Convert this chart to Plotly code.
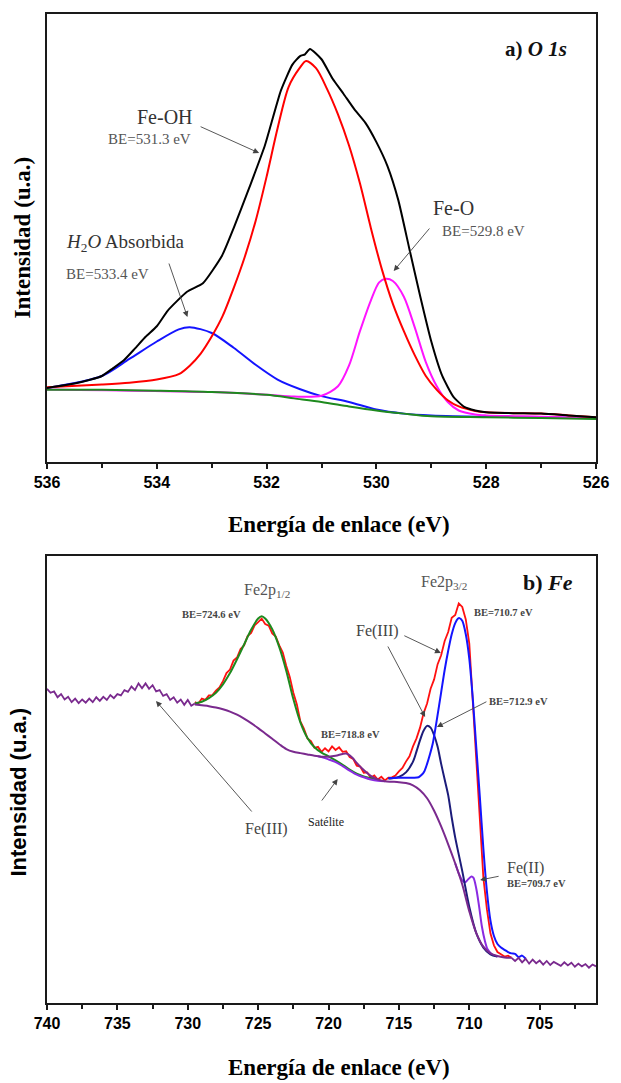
import numpy as np
import plotly.graph_objects as go

# ================= Panel a) O 1s =================
o_tot_E = [536.0, 535.5, 535.2, 535.0, 534.8, 534.6, 534.4, 534.2, 534.0, 533.8, 533.45, 533.16, 532.81, 532.6, 532.31,
           532.03, 531.74, 531.53, 531.39, 531.3, 531.21, 531.0, 530.8, 530.6, 530.4, 530.2, 530.0, 529.8, 529.6, 529.4,
           529.2, 529.0, 528.8, 528.6, 528.4, 528.2, 528.0, 527.5, 527.0, 526.5, 526.0]
o_tot_I = [16.5, 17.5, 18.4, 19.2, 20.9, 22.7, 25.3, 28.0, 30.3, 33.8, 38.0, 39.9, 46.1, 52.2, 61.4,
           70.7, 82.9, 88.7, 90.6, 91.0, 92.2, 89.9, 85.6, 82.2, 78.7, 75.7, 71.4, 66.1, 58.4, 47.6,
           36.9, 26.9, 19.2, 14.6, 12.3, 11.5, 11.1, 10.9, 10.8, 10.4, 10.0]

o_feoh_E = [536.0, 535.0, 534.5, 534.0, 533.6, 533.4, 533.2, 533.0, 532.8, 532.6, 532.4, 532.2, 532.0, 531.8, 531.6,
            531.4, 531.28, 531.1, 530.9, 530.7, 530.5, 530.3, 530.1, 529.9, 529.7, 529.5, 529.3, 529.1, 528.9, 528.7,
            528.5, 528.2, 528.0, 527.5, 527.0, 526.5, 526.0]
o_feoh_I = [16.7, 17.3, 17.7, 18.4, 19.6, 21.5, 24.2, 28.0, 32.6, 38.8, 45.7, 53.8, 63.7, 74.5, 83.7,
            87.9, 89.5, 87.9, 83.3, 77.6, 70.7, 62.2, 52.2, 43.0, 35.3, 29.2, 23.8, 19.2, 16.1, 13.8,
            12.4, 11.4, 11.1, 10.9, 10.8, 10.4, 10.0]

o_h2o_E = [536.0, 535.0, 534.5, 534.0, 533.6, 533.4, 533.0, 532.6, 532.2, 531.8, 531.4, 531.0, 530.5, 530.0, 529.5,
           529.0, 528.0, 527.0, 526.0]
o_h2o_I = [16.5, 19.2, 23.0, 26.9, 29.6, 30.1, 28.8, 25.5, 21.7, 18.4, 16.3, 14.7, 13.4, 11.7, 10.8,
           10.4, 10.1, 10.0, 9.75]

o_feo_E = [536.0, 533.0, 532.0, 531.5, 531.0, 530.7, 530.5, 530.3, 530.1, 529.95, 529.83, 529.7, 529.5, 529.3, 529.1,
           528.9, 528.7, 528.5, 528.2, 528.0, 527.0, 526.0]
o_feo_I = [16.2, 15.6, 15.0, 14.6, 14.8, 16.9, 21.5, 29.2, 36.1, 40.1, 40.9, 40.4, 36.9, 30.0, 22.3,
           16.9, 13.4, 11.5, 10.6, 10.4, 10.1, 9.8]

o_bg_E = [536.0, 535.0, 534.0, 533.0, 532.0, 531.5, 531.0, 530.5, 530.0, 529.5, 529.0, 528.0, 527.0, 526.0]
o_bg_I = [16.1, 16.1, 15.9, 15.6, 15.0, 14.2, 13.4, 12.4, 11.5, 10.8, 10.2, 10.0, 9.8, 9.6]

# ================= Panel b) Fe 2p =================
# noisy raw data, left end (740 -> 729.5 eV, 0.25 eV step)
fe_left_I = [70.3, 69.4, 69.7, 68.4, 69.1, 67.9, 68.5, 67.3, 68.1, 67.1, 67.9, 67.2, 68.1, 67.3, 68.4,
             67.6, 68.5, 67.8, 68.9, 68.2, 69.1, 68.8, 70.0, 69.6, 70.8, 70.0, 71.5, 70.4, 71.5, 70.3,
             71.1, 69.7, 70.0, 68.7, 69.1, 67.8, 68.4, 67.2, 67.9, 66.7, 67.8, 66.5, 67.0]
fe_left_E = np.linspace(740.0, 729.5, len(fe_left_I))

# noisy raw data, right end (707 -> 701 eV)
fe_right_I = [10.1, 9.4, 10.1, 9.1, 9.9, 8.8, 9.7, 8.9, 9.5, 8.6, 9.4, 8.5, 9.2, 8.7, 8.3,
              9.1, 8.4, 9.0, 8.1, 8.8, 8.2, 8.7, 7.9, 8.6, 8.2]
fe_right_E = np.linspace(707.0, 701.0, len(fe_right_I))

# raw data (red), 729.5 -> 707 eV
fe_raw_I = [67.3, 67.0, 68.1, 67.8, 68.8, 68.9, 69.9, 70.6, 72.0, 73.8, 74.6, 76.6, 77.3, 79.2, 80.0,
            82.1, 82.8, 84.5, 85.2, 86.0, 84.8, 84.4, 82.7, 82.0, 80.0, 78.4, 75.4, 72.9, 69.4, 66.8,
            63.0, 61.4, 59.2, 58.6, 57.1, 57.3, 56.2, 57.0, 56.3, 57.4, 56.6, 57.2, 56.2, 56.3, 55.0,
            54.6, 53.1, 52.9, 51.5, 51.6, 50.4, 50.9, 50.0, 50.6, 49.8, 50.4, 50.5, 50.9, 51.8, 52.6,
            54.0, 55.2, 57.4, 59.2, 61.6, 64.8, 67.0, 70.3, 72.4, 75.8, 77.8, 81.0, 83.0, 86.2, 86.8,
            89.4, 88.6, 85.8, 80.4, 67.5, 53.4, 40.5, 28.0, 21.0, 15.6, 12.9, 11.4, 10.9, 10.4, 10.6,
            10.1]
fe_raw_E = np.linspace(729.5, 707.0, len(fe_raw_I))

# Shirley background with satellite (dark purple)
fe_bg_E = [729.5, 729.0, 728.5, 728.0, 727.5, 727.0, 726.5, 726.0, 725.5, 725.0, 724.5, 724.0, 723.5, 723.0, 722.5,
           722.0, 721.5, 721.0, 720.5, 720.0, 719.5, 719.0, 718.75, 718.5, 718.25, 718.0, 717.5, 717.0, 716.5, 716.0,
           715.5, 715.0, 714.5, 714.0, 713.5, 713.0, 712.5, 712.0, 711.5, 711.0, 710.5, 710.0, 709.5, 709.0, 708.5,
           708.0, 707.5, 707.0]
fe_bg_I = [66.8, 66.6, 66.4, 66.1, 65.7, 65.2, 64.5, 63.6, 62.6, 61.5, 60.3, 59.1, 57.9, 56.8, 56.2,
           55.9, 55.6, 55.3, 55.1, 55.1, 55.3, 55.7, 55.8, 55.4, 54.7, 53.7, 52.1, 50.8, 50.0, 49.6,
           49.5, 49.4, 49.2, 48.7, 47.6, 45.8, 43.0, 39.5, 35.5, 31.2, 26.5, 20.5, 15.6, 12.6, 11.1,
           10.5, 10.2, 10.1]

# background without satellite (violet)
fe_bg2_E = [720.75, 720.5, 720.0, 719.5, 719.0, 718.5, 718.0, 717.5, 717.0, 716.5, 716.0]
fe_bg2_I = [55.2, 55.0, 54.5, 53.9, 53.0, 52.0, 51.1, 50.5, 50.0, 49.7, 49.6]

# Fe2p1/2 envelope (green)
fe_p12_E = [729.5, 729.0, 728.5, 728.0, 727.5, 727.0, 726.5, 726.0, 725.5, 725.0, 724.75, 724.5, 724.0, 723.5, 723.0,
            722.5, 722.0, 721.5, 721.0, 720.5, 720.0, 719.5, 719.0, 718.5, 718.0, 717.5, 717.0, 716.5]
fe_p12_I = [67.0, 67.4, 68.2, 69.4, 71.3, 73.8, 76.9, 80.2, 83.5, 86.0, 86.5, 86.0, 83.6, 79.6, 74.3,
            68.0, 62.8, 59.3, 57.2, 56.0, 55.2, 54.3, 53.3, 52.2, 51.3, 50.7, 50.3, 49.9]

# Fe(III) component at 712.9 eV (navy)
fe_iii_b_E = [715.75, 715.5, 715.0, 714.5, 714.0, 713.75, 713.5, 713.25, 713.0, 712.75, 712.5, 712.25, 712.0, 711.75,
              711.5, 711.25, 711.0, 710.5, 710.0, 709.5, 709.0, 708.5, 708.0]
fe_iii_b_I = [50.2, 50.3, 50.6, 51.6, 54.0, 56.3, 58.8, 60.9, 62.0, 61.6, 59.9, 57.3, 53.5, 50.0,
              46.5, 41.5, 37.0, 29.5, 21.5, 15.6, 12.4, 10.9, 10.4]

# Fe(III) component at 710.7 eV (blue)
fe_iii_a_E = [715.75, 715.0, 714.0, 713.6, 713.4, 713.2, 713.0, 712.8, 712.6, 712.3, 712.0, 711.75, 711.5, 711.25,
              711.0, 710.8, 710.7, 710.5, 710.25, 710.0, 709.75, 709.5, 709.25, 709.0, 708.75, 708.5, 708.25, 708.0,
              707.75, 707.5, 707.25, 707.0, 706.75, 706.5, 706.25, 706.0]
fe_iii_a_I = [50.3, 50.4, 50.4, 50.5, 51.0, 51.8, 53.5, 55.6, 58.0, 63.5, 69.5, 74.5, 78.8, 82.5,
              85.0, 86.0, 86.1, 85.5, 82.5, 77.0, 68.0, 57.0, 46.0, 34.5, 25.0, 18.5, 15.0, 13.2,
              12.4, 11.9, 11.4, 11.1, 11.0, 10.3, 10.6, 9.9]

# Fe(II) component at 709.7 eV (violet)
fe_ii_E = [711.0, 710.75, 710.5, 710.3, 710.1, 709.85, 709.7, 709.5, 709.3, 709.1, 708.9, 708.7, 708.4, 708.0]
fe_ii_I = [31.2, 29.0, 27.4, 27.0, 27.6, 28.3, 28.0, 25.5, 21.5, 17.0, 14.0, 12.0, 10.9, 10.4]

top_ticks = [536, 534, 532, 530, 528, 526]
bot_ticks = [740, 735, 730, 725, 720, 715, 710, 705]

# ================= figure =================
W, H = 621, 1083
L, R, T, B = 47, 15, 14, 80
PW, PH = W - L - R, H - T - B

def P(px, py):
    return (px - L) / PW, (H - B - py) / PH

top_dom = [(H - B - 462) / PH, 1.0]
bot_dom = [0.0, (H - B - 556) / PH]

fig = go.Figure()

def add(x, y, color, xa, ya, width=2.0, shape="spline", smoothing=0.8):
    fig.add_trace(go.Scatter(x=list(x), y=list(y), mode="lines", xaxis=xa, yaxis=ya,
                             line=dict(color=color, width=width, shape=shape, smoothing=smoothing),
                             showlegend=False, hoverinfo="skip"))

# top
add(o_h2o_E, o_h2o_I, "#1414FF", "x", "y")
add(o_feo_E, o_feo_I, "#FF14FF", "x", "y")
add(o_feoh_E, o_feoh_I, "#FF0000", "x", "y")
add(o_bg_E, o_bg_I, "#1E8A1E", "x", "y")
add(o_tot_E, o_tot_I, "#000000", "x", "y", smoothing=0.5)

# bottom
add(fe_raw_E, fe_raw_I, "#FF1010", "x2", "y2", width=1.8, shape="linear")
add(fe_p12_E, fe_p12_I, "#1E8A1E", "x2", "y2")
add(fe_bg2_E, fe_bg2_I, "#8A2BE2", "x2", "y2")
add(fe_ii_E, fe_ii_I, "#8A2BE2", "x2", "y2")
add(fe_iii_b_E, fe_iii_b_I, "#1C1C7A", "x2", "y2")
add(fe_iii_a_E, fe_iii_a_I, "#1414FF", "x2", "y2")
add(fe_bg_E, fe_bg_I, "#7A2A8E", "x2", "y2")
add(fe_left_E, fe_left_I, "#7A2A8E", "x2", "y2", width=1.8, shape="linear")
add(fe_right_E, fe_right_I, "#7A2A8E", "x2", "y2", width=1.8, shape="linear")

tickfont = dict(family="Liberation Sans", size=16, color="black", weight="bold")
axline = dict(showline=True, linecolor="#1a1a1a", linewidth=2, mirror=True, showgrid=False, zeroline=False)

fig.update_layout(
    width=W, height=H, margin=dict(l=L, r=R, t=T, b=B),
    paper_bgcolor="white", plot_bgcolor="white", showlegend=False,
    xaxis=dict(domain=[0, 1], anchor="y", range=[536, 526], tickvals=top_ticks,
               ticks="outside", ticklen=5, tickwidth=2, tickcolor="#1a1a1a",
               minor=dict(dtick=1, ticks="outside", ticklen=4, tickwidth=1.5, tickcolor="#1a1a1a"),
               tickfont=tickfont, **axline),
    yaxis=dict(domain=top_dom, anchor="x", range=[0, 100], showticklabels=False, ticks="", **axline),
    xaxis2=dict(domain=[0, 1], anchor="y2", range=[740, 701], tickvals=bot_ticks,
                ticks="outside", ticklen=5, tickwidth=2, tickcolor="#1a1a1a",
                minor=dict(dtick=2.5, ticks="outside", ticklen=4, tickwidth=1.5, tickcolor="#1a1a1a"),
                tickfont=tickfont, **axline),
    yaxis2=dict(domain=bot_dom, anchor="x2", range=[0, 100], showticklabels=False, ticks="", **axline),
)

SERIF = "Liberation Serif"
ann = []

def text(px, py, s, size, color="#333333", family=SERIF, angle=0):
    x, y = P(px, py)
    ann.append(dict(x=x, y=y, xref="paper", yref="paper", text=s, showarrow=False,
                    xanchor="center", yanchor="middle", textangle=angle,
                    font=dict(family=family, size=size, color=color)))

def arrow(tx, ty, hx, hy, color="#444444"):
    x, y = P(hx, hy)
    ann.append(dict(x=x, y=y, xref="paper", yref="paper", text="", showarrow=True,
                    ax=tx - hx, ay=ty - hy, axref="pixel", ayref="pixel",
                    arrowhead=2, arrowsize=1.3, arrowwidth=0.9, arrowcolor=color, standoff=0))

# axis titles
text(22, 237, "<b>Intensidad (u.a.)</b>", 23, "black", SERIF, -90)
text(17, 792, "<b>Intensidad (u.a.)</b>", 22, "black", "Liberation Sans", -90)
text(344, 524, "<b>Energía de enlace (eV)</b>", 23, "black", SERIF)
text(344, 1067, "<b>Energía de enlace (eV)</b>", 23, "black", SERIF)

# panel a
text(545, 49, "<b>a) <i>O 1s</i></b>", 21, "#111111")
text(167, 117, "Fe-OH", 20, "#333333")
text(151, 139, "BE=531.3 eV", 15, "#555555")
arrow(203, 126, 263, 153)
text(127, 243, "<i>H</i><sub>2</sub><i>O</i> Absorbida", 19, "#333333")
text(109, 274, "BE=533.4 eV", 15, "#555555")
arrow(171, 262, 190, 317)
text(461, 208, "Fe-O", 20, "#333333")
text(491, 231, "BE=529.8 eV", 15, "#555555")
arrow(437, 227, 400, 271)

# panel b
text(557, 582, "<b>b) <i>Fe</i></b>", 22, "#111111")
text(271, 590, "Fe2p<sub>1/2</sub>", 16, "#555555")
text(451, 582, "Fe2p<sub>3/2</sub>", 16, "#555555")
text(215, 614, "<b>BE=724.6 eV</b>", 10.5, "#444444")
text(512, 613, "<b>BE=710.7 eV</b>", 10.5, "#444444")
text(384, 631, "Fe(III)", 16, "#444444")
arrow(410, 635, 448, 653)
arrow(394, 645, 432, 717)
text(527, 701, "<b>BE=712.9 eV</b>", 10.5, "#444444")
arrow(495, 701, 444, 727)
text(356, 734, "<b>BE=718.8 eV</b>", 10.5, "#444444")
text(331, 822, "Satélite", 12, "#222222")
arrow(326, 802, 343, 779)
text(270, 829, "Fe(III)", 16, "#444444")
arrow(255, 813, 158, 701)
text(534, 868, "Fe(II)", 16, "#444444")
text(545, 883, "<b>BE=709.7 eV</b>", 10.5, "#444444")
arrow(508, 876, 488, 880)

fig.update_layout(annotations=ann)
fig.write_html("out.html")
